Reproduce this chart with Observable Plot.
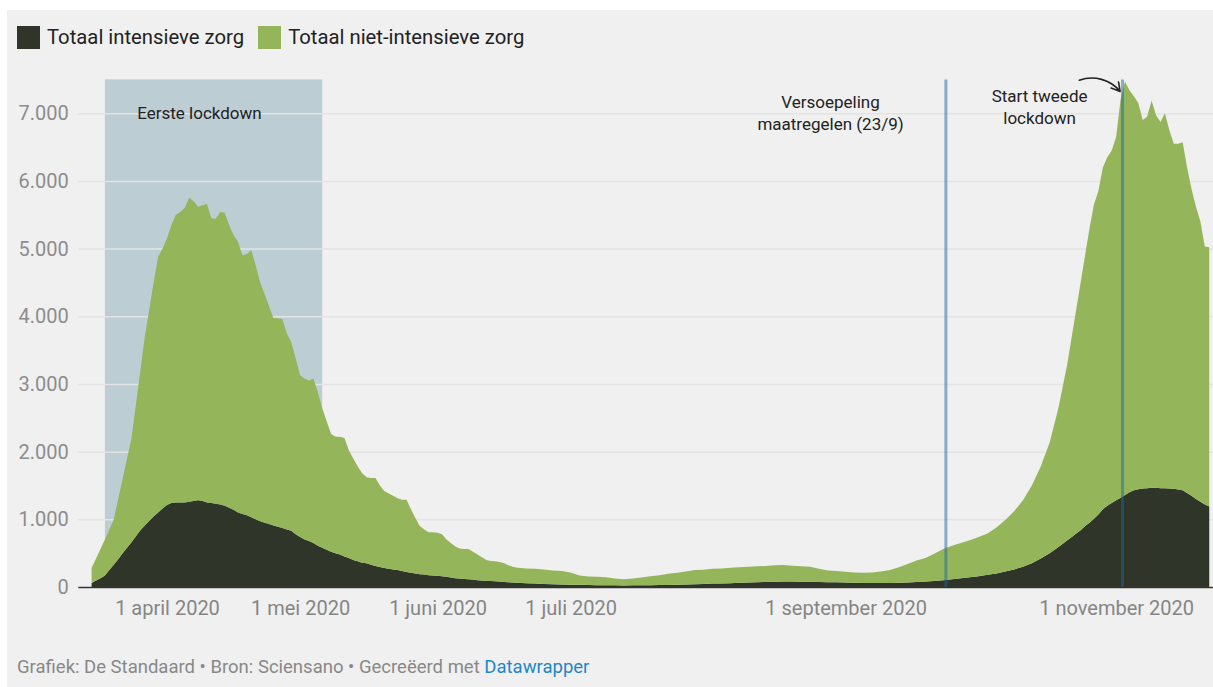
<!DOCTYPE html>
<html><head><meta charset="utf-8">
<script src="https://cdn.jsdelivr.net/npm/d3@7"></script>
<script src="https://cdn.jsdelivr.net/npm/@observablehq/plot@0.6"></script>
<style>
html,body{margin:0;padding:0;background:#fff;}
body{width:1213px;height:687px;position:relative;overflow:hidden;font-family:Roboto,"Noto Sans",sans-serif;}
#bg{position:absolute;left:7px;top:10px;right:0;bottom:0;background:#f0f0f0;}
#legend{position:absolute;left:17px;top:26px;display:flex;align-items:center;font-size:20.3px;color:#222;}
.item{display:flex;align-items:center;margin-right:14px;line-height:23px;}
.sw{width:23px;height:23px;margin-right:7px;}
#chart{position:absolute;left:0;top:60px;}
#footer{position:absolute;left:17px;top:656px;font-size:18.5px;line-height:22px;color:#888;white-space:nowrap;}
#footer .dw{color:#1d87c9;}
</style></head>
<body>
<div id="bg"></div>
<div id="legend"></div>
<div id="chart"></div>
<div id="footer">Grafiek: De Standaard • Bron: Sciensano • Gecreëerd met <span class="dw">Datawrapper</span></div>
<script>
// ---- data ----
const seriesNames = ["Totaal intensieve zorg", "Totaal niet-intensieve zorg"];
const seriesColors = ["#2f3528", "#94b55a"];

const dates = [
  // maart (daily)
  "03-15","03-16","03-17","03-18","03-19","03-20","03-21","03-22","03-23","03-24","03-25","03-26","03-27","03-28","03-29","03-30","03-31",
  // april (daily)
  "04-01","04-02","04-03","04-04","04-05","04-06","04-07","04-08","04-09","04-10","04-11","04-12","04-13","04-14","04-15",
  "04-16","04-17","04-18","04-19","04-20","04-21","04-22","04-23","04-24","04-25","04-26","04-27","04-28","04-29","04-30",
  // mei (daily)
  "05-01","05-02","05-03","05-04","05-05","05-06","05-07","05-08","05-09","05-10","05-11","05-12","05-13","05-14","05-15","05-16",
  "05-17","05-18","05-19","05-20","05-21","05-22","05-23","05-24","05-25","05-26","05-27","05-28","05-29","05-30","05-31",
  // juni 1-21 (daily)
  "06-01","06-02","06-03","06-04","06-05","06-06","06-07","06-08","06-09","06-10","06-11","06-12","06-13","06-14","06-15","06-16",
  "06-17","06-18","06-19","06-20","06-21",
  // juni 23 - oktober 21 (every two days)
  "06-23","06-25","06-27","06-29",
  "07-01","07-03","07-05","07-07","07-09","07-11","07-13","07-15","07-17","07-19","07-21","07-23","07-25","07-27","07-29","07-31",
  "08-02","08-04","08-06","08-08","08-10","08-12","08-14","08-16","08-18","08-20","08-22","08-24","08-26","08-28","08-30",
  "09-01","09-03","09-05","09-07","09-09","09-11","09-13","09-15","09-17","09-19","09-21","09-23","09-25","09-27","09-29",
  "10-01","10-03","10-05","10-07","10-09","10-11","10-13","10-15","10-17","10-19","10-21",
  // oktober 22 - november 22 (daily)
  "10-22","10-23","10-24","10-25","10-26","10-27","10-28","10-29","10-30","10-31",
  "11-01","11-02","11-03","11-04","11-05","11-06","11-07","11-08","11-09","11-10","11-11","11-12","11-13","11-14","11-15",
  "11-16","11-17","11-18","11-19","11-20","11-21","11-22"
];

const intensief = [
  60,95,130,170,250,330,410,500,580,660,750,840,910,980,1040,1100,1160,
  1210,1240,1250,1250,1250,1260,1270,1280,1270,1250,1240,1230,1220,1200,1170,
  1140,1100,1080,1060,1030,1000,970,950,930,910,890,870,850,830,780,
  740,700,680,650,610,580,550,520,500,480,450,430,400,380,360,350,
  330,310,295,280,270,260,250,235,220,210,200,190,185,175,170,
  165,160,150,140,130,125,120,115,110,100,95,90,88,85,80,75,
  70,65,62,60,57,
  52,45,42,38,
  35,32,30,27,25,25,24,25,26,27,29,31,34,37,40,45,
  50,53,57,62,66,70,74,77,80,80,78,76,74,72,70,
  67,63,60,58,58,60,63,68,75,82,90,100,115,130,145,
  160,180,200,230,260,300,350,420,500,590,690,
  740,790,840,900,950,1010,1070,1150,1200,1240,
  1280,1320,1360,1400,1430,1445,1455,1460,1465,1465,1460,1460,1455,1450,1440,
  1430,1390,1350,1300,1260,1220,1190
];

const nietIntensief = [
  220,325,430,530,600,670,890,1100,1320,1540,1950,2360,2790,3120,3460,3780,3840,
  3940,4110,4250,4290,4350,4490,4430,4340,4370,4410,4210,4210,4320,4330,4180,
  4060,4000,3820,3860,3950,3750,3530,3380,3220,3060,3080,3090,2900,2790,2600,
  2390,2380,2370,2430,2270,2060,1900,1740,1720,1740,1750,1590,1500,1400,1320,1270,
  1280,1300,1205,1140,1110,1090,1060,1055,1070,940,820,710,665,635,640,
  635,620,550,510,470,445,440,445,410,380,345,310,297,295,290,275,
  250,235,223,220,218,
  218,215,203,197,
  180,138,125,123,120,100,91,100,114,133,146,164,176,193,210,210,
  220,222,228,228,234,235,236,243,245,235,227,224,196,173,165,
  158,152,150,157,172,190,227,272,315,348,400,460,495,520,545,
  580,610,680,760,860,980,1150,1360,1630,2060,2610,
  2960,3310,3660,4000,4350,4640,4780,5050,5150,5210,
  5370,5880,6110,5940,5820,5705,5445,5490,5725,5505,5410,5540,5295,5100,5110,
  5140,4810,4530,4320,4140,3810,3830
];

const yTicks = [0, 1000, 2000, 3000, 4000, 5000, 6000, 7000];
const xTickDates = ["2020-04-01", "2020-05-01", "2020-06-01", "2020-07-01", "2020-09-01", "2020-11-01"];
const maanden = ["januari","februari","maart","april","mei","juni","juli","augustus","september","oktober","november","december"];

const lockdownStart = ["2020-03-18"];
const lockdownEnd = ["2020-05-06"];
const eventDates = ["2020-09-23T12:00", "2020-11-02T08:00"];

const annotationLabels = ["Eerste lockdown", "Versoepeling\nmaatregelen (23/9)", "Start tweede\nlockdown"];
const annotationDates = ["2020-04-08T05:00", "2020-08-28T12:00", "2020-10-14T15:00"];
const annotationValues = [7030, 7020, 7110];

const arrowFrom = {date: "2020-10-23T14:00", value: 7495};
const arrowTo = {date: "2020-11-01T19:00", value: 7330};

// ---- build tables ----
const data = [];
dates.forEach((d, i) => {
  const date = new Date("2020-" + d);
  data.push({date, serie: seriesNames[0], value: intensief[i]});
  data.push({date, serie: seriesNames[1], value: nietIntensief[i]});
});
const lockdowns = lockdownStart.map((s, i) => ({start: new Date(s + "T00:00Z"), end: new Date(lockdownEnd[i] + "T00:00Z")}));
const events = eventDates.map(d => ({date: new Date(d + "Z")}));
const annotations = annotationLabels.map((t, i) => ({label: t, date: new Date(annotationDates[i] + "Z"), value: annotationValues[i]}));
const arrows = [{x1: new Date(arrowFrom.date + "Z"), y1: arrowFrom.value, x2: new Date(arrowTo.date + "Z"), y2: arrowTo.value}];

const nl = d3.formatLocale({decimal: ",", thousands: ".", grouping: [3], currency: ["€", ""]});
const fmt = nl.format(",d");

// ---- legend ----
const legend = document.getElementById("legend");
seriesNames.forEach((n, i) => {
  const it = document.createElement("div");
  it.className = "item";
  it.innerHTML = `<span class="sw" style="background:${seriesColors[i]}"></span><span>${n}</span>`;
  legend.appendChild(it);
});

// ---- chart ----
const chart = Plot.plot({
  width: 1213,
  height: 590,
  marginTop: 19.4,
  marginBottom: 63,
  marginLeft: 78.3,
  marginRight: 0,
  style: {background: "transparent", fontFamily: "Roboto, 'Noto Sans', sans-serif", overflow: "visible"},
  x: {type: "utc", domain: [new Date("2020-03-12"), new Date("2020-11-23")], range: [78.3, 1213.7]},
  y: {domain: [0, 7500], range: [527, 19.4]},
  color: {domain: seriesNames, range: seriesColors},
  marks: [
    Plot.rect(lockdowns, {x1: "start", x2: "end", fill: "#bccdd4"}),
    Plot.ruleY(yTicks.filter(d => d > 0), {stroke: "#e3e3e3", strokeWidth: 1.5}),
    Plot.areaY(data, Plot.stackY({x: "date", y: "value", fill: "serie", order: seriesNames})),
    Plot.ruleX(events, {x: "date", stroke: "#1b679d", strokeOpacity: 0.5, strokeWidth: 3}),
    Plot.ruleY([0], {stroke: "#333", strokeWidth: 1.5}),
    Plot.axisY({ticks: yTicks, tickSize: 0, tickPadding: 10, tickFormat: fmt, fontSize: 20, color: "#8c8c8c", label: null}),
    Plot.axisX({ticks: xTickDates.map(d => new Date(d)), tickSize: 0, tickPadding: 13, fontSize: 20, color: "#858585", label: null,
      tickFormat: d => `1 ${maanden[d.getUTCMonth()]} ${d.getUTCFullYear()}`}),
    Plot.text(annotations, {x: "date", y: "value", text: "label", fontSize: 17, fill: "#222", lineHeight: 1.3, textAnchor: "middle"}),
    Plot.arrow(arrows, {x1: "x1", y1: "y1", x2: "x2", y2: "y2", bend: 35, stroke: "#222", strokeWidth: 1.6, headLength: 9})
  ]
});
document.getElementById("chart").appendChild(chart);
</script>
</body></html>
